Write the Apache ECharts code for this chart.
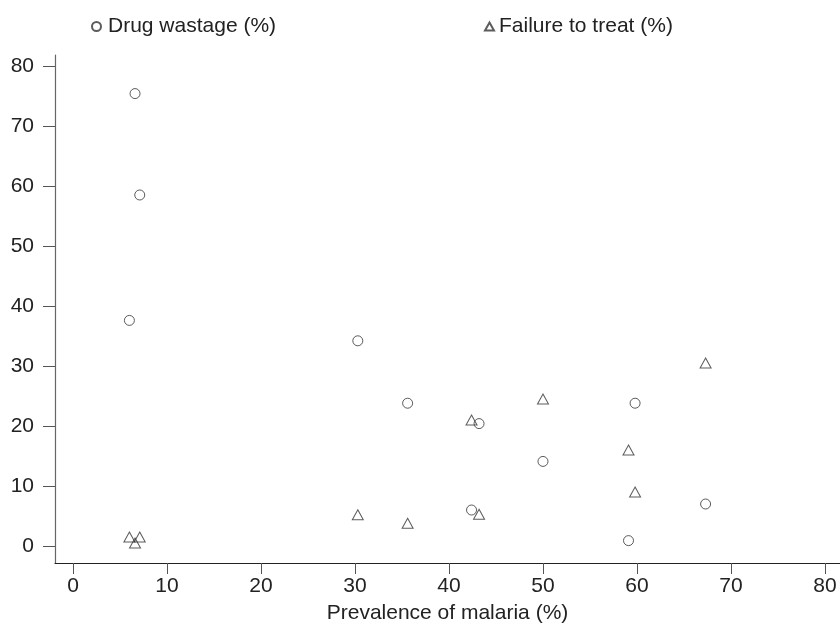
<!DOCTYPE html>
<html><head><meta charset="utf-8">
<script src="https://cdn.jsdelivr.net/npm/echarts@6/dist/echarts.min.js"></script>
<style>html,body{margin:0;padding:0;background:#fff}#c{width:840px;height:625px}</style>
</head><body><div id="c"></div>
<script>
const prevalence = [6.6, 7.1, 6.0, 30.3, 35.6, 43.2, 50.0, 59.8, 67.3, 42.4, 59.1];
const drugWastage = [75.4, 58.5, 37.6, 34.2, 23.8, 20.4, 14.1, 23.8, 7.0, 6.0, 0.9];
const failureToTreat = [0.5, 1.5, 1.5, 5.2, 3.8, 5.3, 24.5, 9.0, 30.5, 21.0, 16.0];
const xTicks = [0, 10, 20, 30, 40, 50, 60, 70, 80];
const yTicks = [0, 10, 20, 30, 40, 50, 60, 70, 80];

const font = 'Liberation Sans, Arial, Helvetica, sans-serif';
const ink = '#333';
const chart = echarts.init(document.getElementById('c'), null, {renderer: 'canvas'});
const pairs = (ys) => prevalence.map((x, i) => [x, ys[i]]);
const markerStyle = {color: 'rgba(0,0,0,0)', borderColor: ink, borderWidth: 1};
chart.setOption({
  animation: false,
  backgroundColor: '#fff',
  grid: {left: 55, right: 0, top: 55, bottom: 62, containLabel: false, outerBoundsMode: 'none'},
  legend: [
    {data: ['Drug wastage (%)'], left: 86, top: 11, itemWidth: 9, itemHeight: 9, itemGap: 5,
     textStyle: {fontFamily: font, fontSize: 21, color: '#222', padding: [0, 0, 0, 2]}},
    {data: ['Failure to treat (%)'], left: 479, top: 11, itemWidth: 9, itemHeight: 8, itemGap: 5,
     textStyle: {fontFamily: font, fontSize: 21, color: '#222'}}
  ],
  xAxis: {
    type: 'value', min: -1.915, max: 81.6,
    name: 'Prevalence of malaria (%)', nameLocation: 'middle', nameGap: 40,
    nameTextStyle: {fontFamily: font, fontSize: 21, color: '#222'},
    axisLine: {show: true, onZero: false, lineStyle: {color: '#222', width: 1.2}},
    axisTick: {show: true, length: 11, customValues: xTicks, lineStyle: {color: '#555'}},
    axisLabel: {customValues: xTicks, fontFamily: font, fontSize: 21, color: '#222', margin: 13},
    splitLine: {show: false}
  },
  yAxis: {
    type: 'value', min: -2.83, max: 81.83,
    axisLine: {show: true, onZero: false, lineStyle: {color: '#666', width: 1.2}},
    axisTick: {show: true, length: 12, customValues: yTicks, lineStyle: {color: '#555'}},
    axisLabel: {customValues: yTicks, fontFamily: font, fontSize: 21, color: '#222', margin: 21},
    splitLine: {show: false}
  },
  series: [
    {name: 'Drug wastage (%)', type: 'scatter', symbol: 'circle', symbolSize: 10,
     itemStyle: markerStyle, data: pairs(drugWastage)},
    {name: 'Failure to treat (%)', type: 'scatter', symbol: 'triangle', symbolSize: [11, 10],
     itemStyle: markerStyle, data: pairs(failureToTreat)}
  ]
});
</script></body></html>
